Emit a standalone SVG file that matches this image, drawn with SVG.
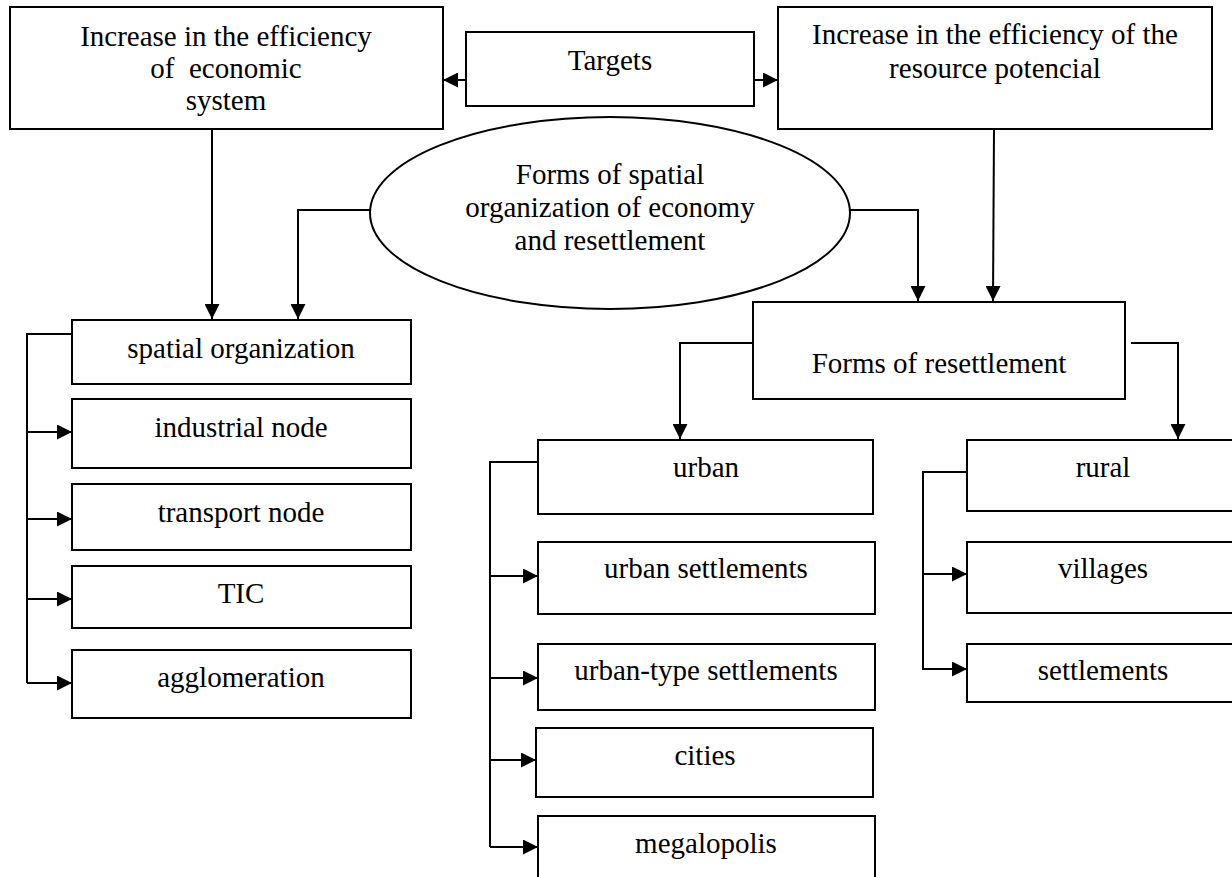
<svg xmlns="http://www.w3.org/2000/svg" width="1232" height="877" viewBox="0 0 1232 877">
<style>
.box{fill:#fff;stroke:#000;stroke-width:2}
.t{font-family:"Liberation Serif","Times New Roman",serif;font-size:29px;fill:#000;text-anchor:middle;white-space:pre}
.c{fill:none;stroke:#000;stroke-width:2}
</style>
<defs>
<marker id="ah" markerUnits="userSpaceOnUse" markerWidth="15" markerHeight="15" refX="15" refY="7.5" orient="auto">
<path d="M0,0 L15,7.5 L0,15 z" fill="#000"/>
</marker>
</defs>
<rect width="1232" height="877" fill="#fff"/>
<g id="connectors">
<line class="c" x1="466" y1="80" x2="443" y2="80" marker-end="url(#ah)"/>
<line class="c" x1="754" y1="80" x2="778" y2="80" marker-end="url(#ah)"/>
<line class="c" x1="212" y1="129" x2="212" y2="319" marker-end="url(#ah)"/>
<polyline class="c" points="370,210 298,210 298,319" marker-end="url(#ah)"/>
<polyline class="c" points="850,210 918,210 918,301" marker-end="url(#ah)"/>
<line class="c" x1="994" y1="129" x2="993" y2="301" marker-end="url(#ah)"/>
<polyline class="c" points="753,343 680,343 680,439" marker-end="url(#ah)"/>
<polyline class="c" points="1131,343 1178,343 1178,439" marker-end="url(#ah)"/>
<polyline class="c" points="72,334 27,334 27,683"/>
<line class="c" x1="27" y1="432" x2="72" y2="432" marker-end="url(#ah)"/>
<line class="c" x1="27" y1="519" x2="72" y2="519" marker-end="url(#ah)"/>
<line class="c" x1="27" y1="599" x2="72" y2="599" marker-end="url(#ah)"/>
<line class="c" x1="27" y1="683" x2="72" y2="683" marker-end="url(#ah)"/>
<polyline class="c" points="538,462 490,462 490,847"/>
<line class="c" x1="490" y1="576" x2="538" y2="576" marker-end="url(#ah)"/>
<line class="c" x1="490" y1="678" x2="538" y2="678" marker-end="url(#ah)"/>
<line class="c" x1="490" y1="760" x2="536" y2="760" marker-end="url(#ah)"/>
<line class="c" x1="490" y1="847" x2="538" y2="847" marker-end="url(#ah)"/>
<polyline class="c" points="967,472 923,472 923,670"/>
<line class="c" x1="923" y1="574" x2="967" y2="574" marker-end="url(#ah)"/>
<line class="c" x1="923" y1="669" x2="967" y2="669" marker-end="url(#ah)"/>
</g>
<g id="n-econ">
<rect class="box" x="10" y="7" width="433" height="122"/>
<text class="t" x="226" y="46">Increase in the efficiency</text>
<text class="t" x="226" y="78">of  economic</text>
<text class="t" x="226" y="110">system</text>
</g>
<g id="n-targets">
<rect class="box" x="466" y="32" width="288" height="74"/>
<text class="t" x="610" y="70">Targets</text>
</g>
<g id="n-resource">
<rect class="box" x="778" y="7" width="434" height="122"/>
<text class="t" x="995" y="44">Increase in the efficiency of the</text>
<text class="t" x="995" y="78">resource potencial</text>
</g>
<g id="n-forms">
<ellipse class="box" cx="610" cy="213" rx="240" ry="96"/>
<text class="t" x="610" y="184">Forms of spatial</text>
<text class="t" x="610" y="217">organization of economy</text>
<text class="t" x="610" y="250">and resettlement</text>
</g>
<g id="n-spatial">
<rect class="box" x="72" y="320" width="339" height="64"/>
<text class="t" x="241" y="358">spatial organization</text>
</g>
<g id="n-industrial">
<rect class="box" x="72" y="399" width="339" height="69"/>
<text class="t" x="241" y="437">industrial node</text>
</g>
<g id="n-transport">
<rect class="box" x="72" y="484" width="339" height="66"/>
<text class="t" x="241" y="522">transport node</text>
</g>
<g id="n-tic">
<rect class="box" x="72" y="566" width="339" height="62"/>
<text class="t" x="241" y="603">TIC</text>
</g>
<g id="n-agglomeration">
<rect class="box" x="72" y="650" width="339" height="68"/>
<text class="t" x="241" y="687">agglomeration</text>
</g>
<g id="n-resettlement">
<rect class="box" x="753" y="302" width="372" height="97"/>
<text class="t" x="939" y="373">Forms of resettlement</text>
</g>
<g id="n-urban">
<rect class="box" x="538" y="440" width="335" height="74"/>
<text class="t" x="706" y="477">urban</text>
</g>
<g id="n-urban-settlements">
<rect class="box" x="538" y="542" width="337" height="72"/>
<text class="t" x="706" y="578">urban settlements</text>
</g>
<g id="n-urban-type">
<rect class="box" x="538" y="644" width="337" height="66"/>
<text class="t" x="706" y="680">urban-type settlements</text>
</g>
<g id="n-cities">
<rect class="box" x="536" y="728" width="337" height="69"/>
<text class="t" x="705" y="765">cities</text>
</g>
<g id="n-megalopolis">
<rect class="box" x="538" y="816" width="337" height="70"/>
<text class="t" x="706" y="853">megalopolis</text>
</g>
<g id="n-rural">
<rect class="box" x="967" y="440" width="275" height="71"/>
<text class="t" x="1103" y="477">rural</text>
</g>
<g id="n-villages">
<rect class="box" x="967" y="542" width="275" height="71"/>
<text class="t" x="1103" y="578">villages</text>
</g>
<g id="n-settlements">
<rect class="box" x="967" y="644" width="275" height="58"/>
<text class="t" x="1103" y="680">settlements</text>
</g>
</svg>
